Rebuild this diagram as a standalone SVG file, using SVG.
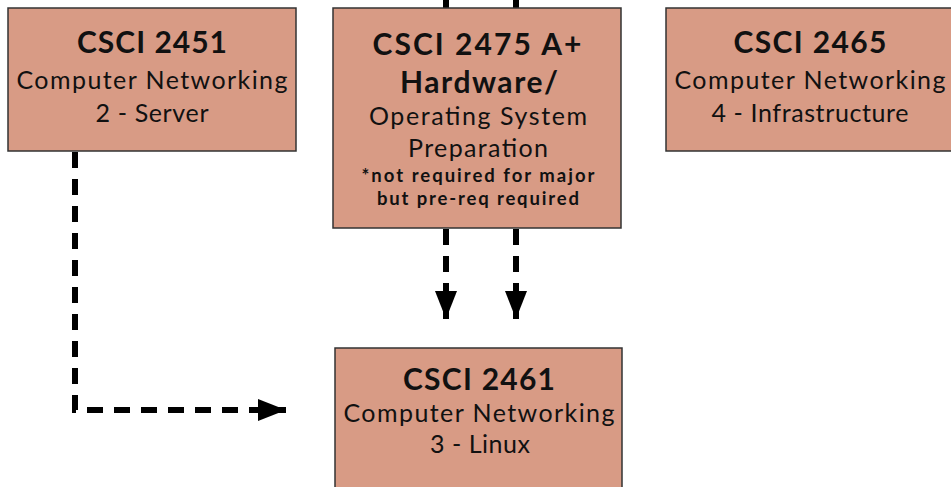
<svg xmlns="http://www.w3.org/2000/svg" width="951" height="487" viewBox="0 0 951 487">
<style>
.box{fill:#D89B85;stroke:#333;stroke-width:1.5}
.t{font-family:Lato,"Open Sans",sans-serif;fill:#111;text-anchor:middle}
.h{font-weight:bold;font-size:30px}
.s{font-size:25px}
.n{font-weight:bold;font-size:18.5px}
.c{fill:none;stroke:#000;stroke-width:6;stroke-dasharray:16 11}
</style>
<defs>
<marker id="ah" markerUnits="userSpaceOnUse" markerWidth="28" markerHeight="22" refX="28" refY="11" orient="auto">
<path d="M0,0 L28,11 L0,22 Z" fill="#000"/>
</marker>
</defs>
<rect width="951" height="487" fill="#fff"/>
<g id="connectors">
<path class="c" d="M446,0 V8"/>
<path class="c" d="M516,0 V8"/>
<path class="c" d="M446,229 V319" marker-end="url(#ah)"/>
<path class="c" d="M516,229 V319" marker-end="url(#ah)"/>
<path class="c" d="M75,152 V410 H286" marker-end="url(#ah)"/>
</g>
<g id="csci2451">
<rect class="box" x="8" y="8" width="288" height="143"/>
<text class="t h" x="152" y="53" textLength="150" lengthAdjust="spacing">CSCI 2451</text>
<text class="t s" x="152" y="89" textLength="271" lengthAdjust="spacing">Computer Networking</text>
<text class="t s" x="152" y="122" textLength="113" lengthAdjust="spacing">2 - Server</text>
</g>
<g id="csci2475">
<rect class="box" x="333" y="8" width="288" height="220"/>
<text class="t h" x="477" y="55" textLength="209" lengthAdjust="spacing">CSCI 2475 A+</text>
<text class="t h" x="479" y="93" textLength="158" lengthAdjust="spacing">Hardware/</text>
<text class="t s" x="478" y="125" textLength="218" lengthAdjust="spacing">Operating System</text>
<text class="t s" x="478" y="157" textLength="140" lengthAdjust="spacing">Preparation</text>
<text class="t n" x="478" y="182" textLength="233" lengthAdjust="spacing">*not required for major</text>
<text class="t n" x="478" y="205" textLength="202" lengthAdjust="spacing">but pre-req required</text>
</g>
<g id="csci2465">
<rect class="box" x="666" y="8" width="292" height="143"/>
<text class="t h" x="810" y="53" textLength="153" lengthAdjust="spacing">CSCI 2465</text>
<text class="t s" x="810" y="89" textLength="271" lengthAdjust="spacing">Computer Networking</text>
<text class="t s" x="810" y="122" textLength="197" lengthAdjust="spacing">4 - Infrastructure</text>
</g>
<g id="csci2461">
<rect class="box" x="335" y="348" width="287" height="150"/>
<text class="t h" x="479" y="390" textLength="152" lengthAdjust="spacing">CSCI 2461</text>
<text class="t s" x="479" y="422" textLength="271" lengthAdjust="spacing">Computer Networking</text>
<text class="t s" x="480" y="453" textLength="100" lengthAdjust="spacing">3 - Linux</text>
</g>
</svg>
